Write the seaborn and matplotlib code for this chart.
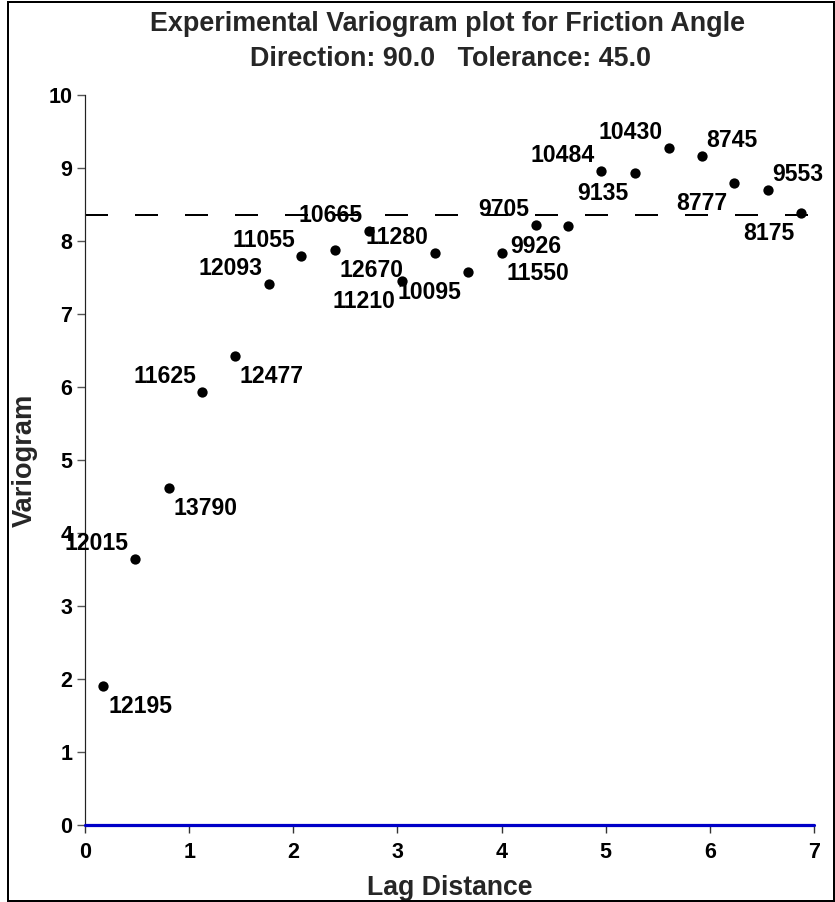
import matplotlib
matplotlib.use("Agg")
import matplotlib.pyplot as plt
from matplotlib.patches import Rectangle
import seaborn as sns
import pandas as pd

# Experimental variogram: lag distance, semivariance and number of pairs per lag
lag_distance = [0.173, 0.480, 0.806, 1.123, 1.440, 1.766, 2.073, 2.399, 2.726, 3.042, 3.359,
                3.676, 4.002, 4.328, 4.635, 4.952, 5.278, 5.605, 5.921, 6.228, 6.555, 6.871]
variogram = [1.90, 3.65, 4.62, 5.93, 6.43, 7.41, 7.79, 7.88, 8.14, 7.45, 7.83,
             7.58, 7.83, 8.22, 8.21, 8.96, 8.93, 9.28, 9.16, 8.80, 8.70, 8.38]
pair_counts = [12195, 12015, 13790, 11625, 12477, 12093, 11055, 12670, 10665, 11210, 11280,
               10095, 11550, 9705, 9926, 10484, 9135, 10430, 8745, 8777, 9553, 8175]
sill = 8.35

x_ticks = [0, 1, 2, 3, 4, 5, 6, 7]
y_ticks = [0, 1, 2, 3, 4, 5, 6, 7, 8, 9, 10]

# where each pair-count label sits relative to its point
label_side = ["BR", "UL", "BR", "UL", "BR", "UL", "UL", "BR", "UL", "BL", "UL",
              "BL", "BR", "UL", "BL", "UL", "BL", "UL", "UR", "BL", "UR", "BL"]

df = pd.DataFrame({"lag": lag_distance, "gamma": variogram, "pairs": pair_counts})

sns.set_theme(style="white")
plt.rcParams["font.family"] = ["Liberation Sans", "DejaVu Sans"]
plt.rcParams["font.weight"] = "bold"

W, H = 835, 902
DPI = 100
fig = plt.figure(figsize=(W / DPI, H / DPI), dpi=DPI)
px = 72.0 / DPI  # points per pixel

ax = fig.add_axes([85 / W, 1 - 825 / H, 729 / W, 730 / H])

sns.scatterplot(data=df, x="lag", y="gamma", ax=ax, color="black", s=55,
                edgecolor="black", linewidth=0, zorder=4, clip_on=False, legend=False)

# sill line
ax.axhline(sill, color="black", lw=2 * px, linestyle=(0, (23 / 2, 27 / 2)), zorder=2)
# zero line
ax.axhline(0, color="#0000c8", lw=3.2 * px, zorder=3, clip_on=False)

offsets = {
    "UL": ((-6, 9), "right"),
    "UR": ((5, 9), "left"),
    "BR": ((5, -27), "left"),
    "BL": ((-6, -27), "right"),
}
for xv, yv, n, side in zip(lag_distance, variogram, pair_counts, label_side):
    (dx, dy), ha = offsets[side]
    ax.annotate(str(n), (xv, yv), xytext=(dx * px, dy * px), textcoords="offset points",
                ha=ha, va="baseline", fontsize=16.6, fontweight="bold", color="black",
                zorder=5, annotation_clip=False)

ax.set_xlim(0, 7)
ax.set_ylim(0, 10)
ax.set_xticks(x_ticks)
ax.set_yticks(y_ticks)
ax.set_xticklabels([str(t) for t in x_ticks], fontsize=15.5, fontweight="bold")
ax.set_yticklabels([str(t) for t in y_ticks], fontsize=15.5, fontweight="bold")
ax.tick_params(axis="x", direction="out", length=6, width=1, color="#333333", pad=6,
               bottom=True, labelcolor="black")
ax.tick_params(axis="y", direction="out", length=6, width=1, color="#555555", pad=3,
               left=True, labelcolor="black")
ax.set_xlabel("")
ax.set_ylabel("")
for side in ["top", "right", "bottom"]:
    ax.spines[side].set_visible(False)
ax.spines["left"].set_color("#222222")
ax.spines["left"].set_linewidth(1.2 * px)
ax.set_facecolor("white")

# titles and axis labels
fig.text(448 / W, 1 - 31 / H, "Experimental Variogram plot for Friction Angle",
         ha="center", va="baseline", fontsize=19.4, fontweight="bold")
fig.text(450 / W, 1 - 66 / H, "Direction: 90.0   Tolerance: 45.0",
         ha="center", va="baseline", fontsize=19.4, fontweight="bold")
fig.text(450 / W, 1 - 895 / H, "Lag Distance", ha="center", va="baseline",
         fontsize=19.2, fontweight="bold")
fig.text(25 / W, 1 - 460 / H, "Variogram", ha="center", va="center", rotation=90,
         fontsize=19.6, fontweight="bold")

# frame around the whole figure
fig.patches.append(Rectangle((8 / W, 1 - 900.5 / H), (834 - 8) / W, (900.5 - 1.5) / H,
                             transform=fig.transFigure, fill=False, edgecolor="black",
                             lw=2 * px, zorder=10))

fig.savefig("out.png", dpi=DPI, facecolor="white")
